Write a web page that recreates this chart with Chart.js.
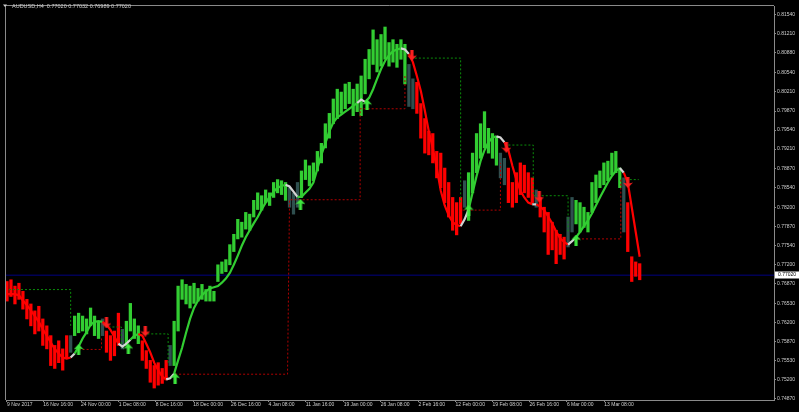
<!DOCTYPE html>
<html>
<head>
<meta charset="utf-8">
<script src="https://cdn.jsdelivr.net/npm/chart.js@4.4.1/dist/chart.umd.min.js"></script>
<style>
    html, body { margin:0; padding:0; background:#000; }
    canvas { display:block; }
</style>
</head>
<body>
<canvas id="chart" width="799" height="412"></canvas>
<script>
var symbolTitle = "AUDUSD,H4  0.77020 0.77032 0.76989 0.77020";
var lastPrice = 0.77020;
var lastPriceLabel = "0.77020";

var yTickLabels = ["0.74870","0.75200","0.75530","0.75870","0.76200","0.76530","0.76870","0.77200","0.77540","0.77870",
    "0.78200","0.78540","0.78870","0.79210","0.79540","0.79870","0.80210","0.80540","0.80880","0.81210","0.81540"];

// bar index of each time label
var xTickPos = [0, 9.1, 18.6, 28.1, 37.4, 46.8, 56.3, 65.7, 75.1, 84.6, 93.9, 103.4, 112.7, 122, 131.3, 140.7, 150.1];
var xTickLabels = ["9 Nov 2017","16 Nov 16:00","24 Nov 00:00","1 Dec 08:00","8 Dec 16:00","18 Dec 00:00","26 Dec 16:00",
    "4 Jan 08:00","11 Jan 16:00","19 Jan 00:00","26 Jan 08:00","2 Feb 16:00","12 Feb 00:00","19 Feb 08:00",
    "26 Feb 16:00","6 Mar 00:00","13 Mar 08:00"];

var barHigh = [
    .7691,.7694,.7683,.7688,.7674,.7660,.7652,.7640,.7648,.7626,
    .7614,.7597,.7580,.7588,.7574,.7597,.7597,.7631,.7636,.7631,
    .7626,.7645,.7631,.7622,.7626,.7605,.7597,.7605,.7636,.7608,
    .7622,.7653,.7626,.7614,.7588,.7571,.7554,.7545,.7550,.7540,
    .7554,.7580,.7622,.7683,.7694,.7686,.7683,.7688,.7679,.7686,
    .7677,.7683,.7674,.7720,.7725,.7729,.7755,.7773,.7799,.7794,
    .7811,.7808,.7832,.7845,.7840,.7850,.7845,.7863,.7868,.7866,
    .7863,.7854,.7845,.7863,.7883,.7902,.7892,.7897,.7917,.7931,
    .7965,.7983,.8008,.8025,.8020,.8034,.8037,.8025,.8034,.8048,
    .8077,.8094,.8128,.8111,.8120,.8133,.8106,.8111,.8103,.8111,
    .8103,.8068,.8043,.8037,.8000,.7974,.7952,.7948,.7917,.7914,
    .7888,.7863,.7837,.7828,.7837,.7866,.7880,.7914,.7948,.7965,
    .7986,.7957,.7948,.7943,.7914,.7905,.7888,.7863,.7880,.7897,
    .7893,.7880,.7871,.7850,.7837,.7820,.7811,.7794,.7780,.7773,
    .7768,.7803,.7837,.7832,.7828,.7820,.7811,.7863,.7876,.7883,
    .7897,.7900,.7914,.7917,.7888,.7871,.7828,.7734,.7725,.7722
];
var barLow = [
    .7657,.7665,.7652,.7660,.7643,.7626,.7614,.7600,.7605,.7580,
    .7574,.7545,.7540,.7550,.7537,.7557,.7568,.7597,.7602,.7605,
    .7600,.7614,.7597,.7592,.7597,.7568,.7554,.7562,.7580,.7574,
    .7580,.7605,.7592,.7583,.7554,.7540,.7516,.7506,.7511,.7514,
    .7520,.7545,.7545,.7605,.7660,.7652,.7645,.7653,.7657,.7660,
    .7657,.7657,.7657,.7691,.7705,.7708,.7720,.7743,.7765,.7768,
    .7782,.7780,.7803,.7816,.7815,.7828,.7823,.7837,.7845,.7842,
    .7832,.7820,.7808,.7820,.7837,.7868,.7857,.7866,.7883,.7897,
    .7923,.7940,.7965,.7974,.7983,.7991,.8000,.7979,.7986,.7979,
    .8017,.8043,.8068,.8055,.8065,.8077,.8065,.8072,.8063,.8077,
    .8034,.7995,.7991,.7983,.7940,.7914,.7911,.7897,.7871,.7854,
    .7828,.7803,.7780,.7772,.7791,.7820,.7797,.7845,.7880,.7905,
    .7923,.7914,.7905,.7893,.7871,.7859,.7828,.7820,.7828,.7842,
    .7845,.7837,.7828,.7820,.7803,.7777,.7738,.7746,.7722,.7738,
    .7730,.7751,.7777,.7791,.7777,.7785,.7777,.7811,.7828,.7854,
    .7859,.7866,.7876,.7880,.7854,.7777,.7743,.7691,.7700,.7694
];
// bar colour runs: g = up, r = down, d = undecided
var barTrendRuns = [['r',16],['d',1],['g',7],['d',1],['r',4],['d',1],['g',4],['r',7],['d',1],['g',29],['d',3],
    ['g',27],['d',2],['r',12],['d',1],['g',8],['d',2],['r',7],['d',1],['r',7],['d',2],['g',12],['d',1],['r',4]];

var maValues = [
    .7669,.7669,.7669,.7667,.7658,.7650,.7641,.7631,.7621,.7608,
    .7597,.7585,.7574,.7566,.7559,.7557,.7559,.7566,.7578,.7592,
    .7603,.7616,.7621,.7622,.7621,.7616,.7607,.7595,.7583,.7578,
    .7583,.7590,.7597,.7600,.7597,.7583,.7568,.7550,.7537,.7526,
    .7521,.7523,.7531,.7554,.7576,.7602,.7626,.7645,.7658,.7667,
    .7674,.7679,.7681,.7683,.7689,.7696,.7706,.7720,.7736,.7753,
    .7768,.7780,.7792,.7803,.7816,.7828,.7838,.7847,.7854,.7857,
    .7859,.7856,.7847,.7838,.7838,.7845,.7852,.7863,.7887,.7911,
    .7931,.7952,.7967,.7976,.7981,.7986,.7991,.7996,.8001,.8007,
    .8003,.8010,.8025,.8043,.8060,.8074,.8084,.8091,.8094,.8096,
    .8094,.8086,.8072,.8048,.8022,.7988,.7952,.7923,.7888,.7849,
    .7823,.7806,.7794,.7789,.7787,.7799,.7816,.7845,.7874,.7900,
    .7919,.7933,.7941,.7943,.7941,.7933,.7919,.7892,.7868,.7849,
    .7837,.7828,.7825,.7825,.7821,.7815,.7804,.7792,.7778,.7766,
    .7760,.7755,.7761,.7768,.7777,.7787,.7797,.7809,.7823,.7837,
    .7850,.7863,.7874,.7883,.7888,.7880,.7863,.7820,.7777,.7734
];
// ma colour runs: g = up, r = down, w = flat
var maTrendRuns = [['r',17],['w',1],['g',7],['r',4],['w',3],['g',2],['r',7],['w',2],['g',28],['w',3],['g',15],
    ['w',2],['g',9],['w',2],['r',13],['w',2],['g',7],['w',2],['r',7],['w',1],['r',8],['w',2],['g',11],['w',1],['r',4]];

// dotted stop levels: [bar index, price]
var greenStopLines = [
    [[0.5,.7677],[16,.7677],[16,.7610]],
    [[25.5,.7612],[28.75,.7612],[28.75,.7583]],
    [[34.25,.7600],[40.5,.7600],[40.5,.7550]],
    [[102.5,.8079],[114,.8079],[114,.7828]],
    [[125,.7928],[132.25,.7928],[132.25,.7840],[141,.7840],[141,.7777]],
    [[155.5,.7868],[158.75,.7868]]
];
var redStopLines = [
    [[18,.7573],[23.75,.7573],[23.75,.7592]],
    [[42.25,.7530],[70.5,.7530],[71,.7833],[88.75,.7833],[88.75,.7991],[100,.7991],[100,.8051]],
    [[114.5,.7815],[124,.7815],[124,.7897]],
    [[143.5,.7765],[154.25,.7765],[154.25,.7868]]
];

var buyArrowBars = [18, 30.5, 42.25, 73.75, 90.5, 116, 143];
var buyArrowPrices = [.7573, .7574, .7523, .7825, .7998, .7815, .7763];
var sellArrowBars = [25, 34.75, 101.75, 125.5, 133.75, 156];
var sellArrowPrices = [.7619, .7605, .8084, .7924, .7838, .7863];

var GREEN = '#32cd32';
var RED = '#ff0000';
var DARK = '#2f4f4f';
var FLAT = '#d3d3d3';
var AXIS = '#8a8a8a';
var TEXT = '#cfcfcf';
var FONT = '"Liberation Sans", Arial, sans-serif';

function expandRuns(runs) {
    let out = [];
    for(let i=0; i<runs.length; i++) {
        for(let j=0; j<runs[i][1]; j++) {
            out.push(runs[i][0]);
        }
    }
    return out;
}

function colourOf(s) {
    if(s == 'g') return GREEN;
    if(s == 'r') return RED;
    if(s == 'w') return FLAT;
    return DARK;
}

// thick arrow sprite, pointing up or down
function makeArrow(colour, up) {
    let c = document.createElement('canvas');
    c.width = 10;
    c.height = 11;
    let g = c.getContext('2d');
    if(!up) {
        g.translate(0, 11);
        g.scale(1, -1);
    }
    g.fillStyle = colour;
    g.beginPath();
    g.moveTo(5, 0);
    g.lineTo(10, 5.5);
    g.lineTo(6.6, 4.5);
    g.lineTo(6.6, 11);
    g.lineTo(3.4, 11);
    g.lineTo(3.4, 4.5);
    g.lineTo(0, 5.5);
    g.closePath();
    g.fill();
    return c;
}

var barTrend = expandRuns(barTrendRuns);
var maTrend = expandRuns(maTrendRuns);

var candleData = [];
var candleColours = [];
for(let i=0; i<barHigh.length; i++) {
    candleData.push({x: i, y: [barLow[i], barHigh[i]]});
    candleColours.push(colourOf(barTrend[i]));
}
var maData = maValues.map(function(v, i) { return {x: i, y: v}; });

var X_MIN = -0.25, X_MAX = 192.75;

var datasets = [];
datasets.push({
    type: 'line',
    data: [{x: X_MIN, y: lastPrice}, {x: X_MAX, y: lastPrice}],
    borderColor: '#000080',
    borderWidth: 1,
    pointRadius: 0,
    order: 10
});
datasets.push({
    type: 'bar',
    data: candleData,
    backgroundColor: candleColours,
    borderWidth: 0,
    barThickness: 2.6,
    order: 9
});

function addStops(lines, colour) {
    for(let i=0; i<lines.length; i++) {
        datasets.push({
            type: 'line',
            data: lines[i].map(function(p) { return {x: p[0], y: p[1]}; }),
            borderColor: colour,
            borderWidth: 1,
            borderDash: [2, 2],
            pointRadius: 0,
            order: 5
        });
    }
}
addStops(greenStopLines, '#0a8c0a');
addStops(redStopLines, '#b00000');

datasets.push({
    type: 'line',
    data: maData,
    borderWidth: 2.2,
    pointRadius: 0,
    borderColor: GREEN,
    segment: {
        borderColor: function(ctx) { return colourOf(maTrend[ctx.p1DataIndex]); }
    },
    order: 3
});

datasets.push({
    type: 'scatter',
    data: buyArrowBars.map(function(b, i) { return {x: b, y: buyArrowPrices[i]}; }),
    pointStyle: makeArrow('#3ee83e', true),
    pointRadius: 5,
    order: 1
});
datasets.push({
    type: 'scatter',
    data: sellArrowBars.map(function(b, i) { return {x: b, y: sellArrowPrices[i]}; }),
    pointStyle: makeArrow('#ff2020', false),
    pointRadius: 5,
    order: 1
});

var terminalLook = {
    id: 'terminalLook',
    beforeDraw: function(chart) {
        let ctx = chart.ctx;
        ctx.save();
        ctx.fillStyle = '#000';
        ctx.fillRect(0, 0, chart.width, chart.height);
        ctx.restore();
    },
    afterDraw: function(chart) {
        let ctx = chart.ctx;
        let a = chart.chartArea;
        ctx.save();
        // left and top frame
        ctx.strokeStyle = AXIS;
        ctx.lineWidth = 1;
        ctx.beginPath();
        ctx.moveTo(a.left - 0.5, a.bottom);
        ctx.lineTo(a.left - 0.5, a.top - 0.5);
        ctx.lineTo(a.right, a.top - 0.5);
        ctx.stroke();

        // last price tag
        let py = Math.round(chart.scales.y.getPixelForValue(lastPrice));
        ctx.fillStyle = '#ffffff';
        ctx.fillRect(a.right + 1, py - 3.5, 25, 7);
        ctx.fillStyle = '#000000';
        ctx.font = '5px ' + FONT;
        ctx.textBaseline = 'middle';
        ctx.fillText(lastPriceLabel, a.right + 4, py);

        // symbol header
        ctx.fillStyle = TEXT;
        ctx.beginPath();
        ctx.moveTo(3, 4.5);
        ctx.lineTo(7, 4.5);
        ctx.lineTo(5, 7);
        ctx.closePath();
        ctx.fill();
        ctx.font = '5.5px ' + FONT;
        ctx.fillText(symbolTitle, 12, 6);
        ctx.restore();
    }
};

new Chart(document.getElementById('chart').getContext('2d'), {
    type: 'bar',
    data: { datasets: datasets },
    plugins: [terminalLook],
    options: {
        responsive: false,
        animation: false,
        events: [],
        devicePixelRatio: 1,
        layout: { padding: { left: 2, top: 1, right: 0, bottom: 0 } },
        plugins: {
            legend: { display: false },
            tooltip: { enabled: false }
        },
        scales: {
            x: {
                type: 'linear',
                min: X_MIN,
                max: X_MAX,
                offset: false,
                afterBuildTicks: function(scale) {
                    scale.ticks = xTickPos.map(function(v) { return {value: v}; });
                },
                afterFit: function(scale) {
                    scale.height = 12;
                    scale.paddingLeft = 0;
                    scale.paddingRight = 0;
                },
                ticks: {
                    autoSkip: false,
                    maxRotation: 0,
                    align: 'start',
                    padding: 0,
                    color: TEXT,
                    font: { family: FONT, size: 5 },
                    callback: function(v, i) { return xTickLabels[i]; }
                },
                grid: { display: true, drawOnChartArea: false, drawTicks: true, tickLength: 2, color: AXIS, offset: false },
                border: { display: true, color: AXIS }
            },
            y: {
                position: 'right',
                min: 0.74852,
                max: 0.81695,
                afterBuildTicks: function(scale) {
                    scale.ticks = yTickLabels.map(function(s) { return {value: parseFloat(s)}; });
                },
                afterFit: function(scale) {
                    scale.width = 25;
                    scale.paddingTop = 0;
                    scale.paddingBottom = 0;
                },
                ticks: {
                    autoSkip: false,
                    padding: 1,
                    color: TEXT,
                    font: { family: FONT, size: 5 },
                    callback: function(v, i) { return yTickLabels[i]; }
                },
                grid: { display: true, drawOnChartArea: false, drawTicks: true, tickLength: 2, color: AXIS },
                border: { display: true, color: AXIS }
            }
        }
    }
});
</script>
</body>
</html>
